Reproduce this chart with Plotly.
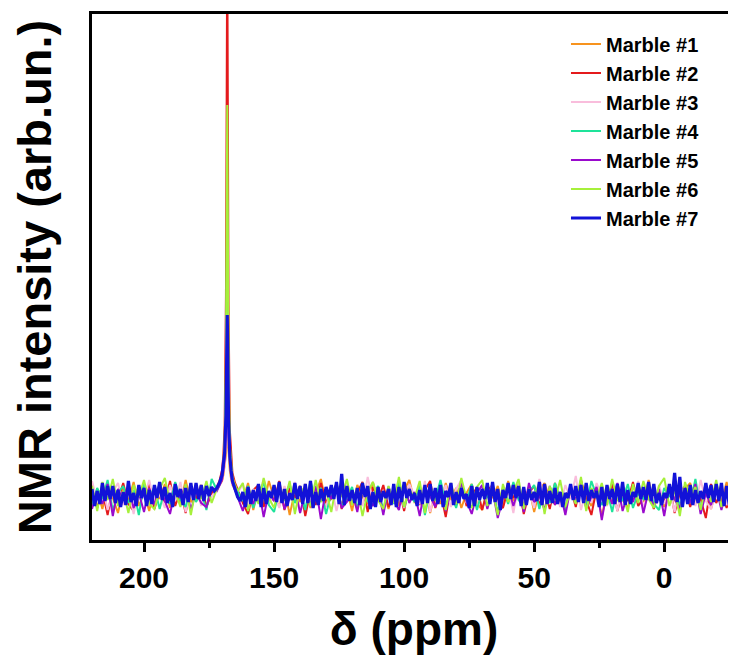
import plotly.graph_objects as go

# Chemical shift sampling (ppm), coarse grid for Marble #1-#6
x_pre = [220, 218, 216, 214, 212, 210, 208, 206, 204, 202,
         200, 198, 196, 194, 192, 190, 188, 186, 184, 182,
         180, 178, 176, 174]
x_peak = [172, 171, 170, 169.5, 169, 168.5, 168, 167.5, 167, 166.5, 166, 165, 164]
x_post = [162, 160, 158, 156, 154, 152, 150, 148, 146, 144,
          142, 140, 138, 136, 134, 132, 130, 128, 126, 124,
          122, 120, 118, 116, 114, 112, 110, 108, 106, 104,
          102, 100, 98, 96, 94, 92, 90, 88, 86, 84,
          82, 80, 78, 76, 74, 72, 70, 68, 66, 64,
          62, 60, 58, 56, 54, 52, 50, 48, 46, 44,
          42, 40, 38, 36, 34, 32, 30, 28, 26, 24,
          22, 20, 18, 16, 14, 12, 10, 8, 6, 4,
          2, 0, -2, -4, -6, -8, -10, -12, -14, -16,
          -18, -20, -22, -24, -26, -28]

# Fine grid (1 ppm) for Marble #7 (drawn on top)
x7_pre = [220, 219, 218, 217, 216, 215, 214, 213, 212, 211, 210, 209,
          208, 207, 206, 205, 204, 203, 202, 201, 200, 199, 198, 197,
          196, 195, 194, 193, 192, 191, 190, 189, 188, 187, 186, 185,
          184, 183, 182, 181, 180, 179, 178, 177, 176, 175, 174, 173]
x7_post = [163, 162, 161, 160, 159, 158, 157, 156, 155, 154, 153, 152,
           151, 150, 149, 148, 147, 146, 145, 144, 143, 142, 141, 140,
           139, 138, 137, 136, 135, 134, 133, 132, 131, 130, 129, 128,
           127, 126, 125, 124, 123, 122, 121, 120, 119, 118, 117, 116,
           115, 114, 113, 112, 111, 110, 109, 108, 107, 106, 105, 104,
           103, 102, 101, 100, 99, 98, 97, 96, 95, 94, 93, 92,
           91, 90, 89, 88, 87, 86, 85, 84, 83, 82, 81, 80,
           79, 78, 77, 76, 75, 74, 73, 72, 71, 70, 69, 68,
           67, 66, 65, 64, 63, 62, 61, 60, 59, 58, 57, 56,
           55, 54, 53, 52, 51, 50, 49, 48, 47, 46, 45, 44,
           43, 42, 41, 40, 39, 38, 37, 36, 35, 34, 33, 32,
           31, 30, 29, 28, 27, 26, 25, 24, 23, 22, 21, 20,
           19, 18, 17, 16, 15, 14, 13, 12, 11, 10, 9, 8,
           7, 6, 5, 4, 3, 2, 1, 0, -1, -2, -3, -4,
           -5, -6, -7, -8, -9, -10, -11, -12, -13, -14, -15, -16,
           -17, -18, -19, -20, -21, -22, -23, -24, -25, -26, -27, -28]

names = ["Marble #1", "Marble #2", "Marble #3", "Marble #4",
         "Marble #5", "Marble #6", "Marble #7"]
colors = ["#F7931E", "#E41A1C", "#F9BDDC", "#1EE39A",
          "#9A0ACD", "#A6F03A", "#1212D8"]

m1_pre = [-8, 5, -14, 10, -3, -18, 7, -6, 13, -11, 2, -16, 9, -4, 11, -13, 4, -9, 15, -7, -2, 10, -12, 3]
m1_peak = [5, 9, 14, 20, 28, 40, 65, 38, 24, 16, 10, 5, 1]
m1_post = [-5, 12, -15, 6, -9, 14, -3, -11, 8, -20,
           4, -7, 11, -13, 2, 16, -8, -4, 9, -12,
           6, -16, 10, -2, -9, 13, -6, 3, -14, 8,
           -11, 5, 15, -7, -3, 10, -18, 4, -9, 12,
           -5, 7, -13, 2, 11, -8, -15, 6, -3, 9,
           -12, 14, -6, 1, -10, 8, -17, 5, 12, -4,
           -9, 3, -14, 10, -6, 13, -2, -11, 7, -22,
           4, -8, 11, -5, -13, 9, 2, -7, 15, -10,
           3, -12, 8, -4, -16, 6, 12, -9, -2, 10,
           -14, 5, -7, 13, -11, 4]

m2_pre = [10, -13, 4, -20, 8, -5, 12, -9, -16, 6, -2, 11, -14, 3, -7, 14, -11, 5, -18, 9, -4, 7, -12, 2]
m2_peak = [8, 14, 25, 40, 70, 200, 560, 190, 65, 35, 22, 12, 6]
m2_post = [-8, -19, 5, 10, -12, 3, -6, 14, -15, 7,
           -3, 9, -21, 4, -10, 12, -7, -2, 11, -14,
           6, -9, 2, 13, -17, 8, -5, 10, -12, -1,
           7, -16, 11, -4, -9, 5, 14, -13, 3, -22,
           9, -6, 12, -11, -2, 8, -15, 4, 10, -7,
           -13, 6, -3, 11, -19, 2, 9, -10, 5, -14,
           12, -8, -1, 7, -12, 15, -5, -20, 6, 3,
           -9, 11, -16, 4, -6, 13, -11, -3, 8, -14,
           5, -7, 10, -18, 2, 9, -12, 6, -4, -23,
           11, -8, 3, -13, 7, -5]

m3_pre = [14, -6, 9, -15, 3, 12, -10, 5, -19, 8, -3, 15, -8, 1, -13, 10, -6, 13, -17, 4, 8, -11, 6, -2]
m3_peak = [6, 10, 16, 22, 30, 50, 100, 48, 28, 18, 10, 6, 2]
m3_post = [11, -14, 6, -3, 16, -9, 2, -13, 9, -5,
           13, -18, 4, -7, 10, -2, -12, 8, -16, 5,
           12, -8, 1, -11, 18, -6, 3, -15, 9, -4,
           7, -13, 11, -1, -9, 14, -17, 5, -3, 10,
           -12, 6, 15, -8, 2, -14, 9, -5, 12, -10,
           3, 8, -18, 11, -6, 4, -13, 16, -2, -9,
           7, -12, 10, -4, 19, -15, 5, -8, 12, -1,
           -11, 6, -16, 9, 3, -7, 14, -13, 1, -5,
           10, -9, 6, -17, 12, -3, 8, -11, 15, -6,
           -14, 4, 9, -10, 2, -7]

m4_pre = [-11, 7, -4, 15, -16, 2, 9, -8, 5, -20, 11, -3, 8, -14, 6, -9, 13, -5, -12, 10, -7, 3, -15, 16]
m4_peak = [5, 10, 18, 28, 45, 110, 295, 100, 42, 26, 15, 8, 3]
m4_post = [-6, 9, -13, 3, 12, -10, -17, 6, -2, 11,
           -8, 4, -15, 14, -5, 7, -19, 2, 10, -11,
           -3, 8, -14, 12, -6, -1, 9, -16, 5, -9,
           13, -12, 3, -7, 10, -20, 6, -4, 15, -10,
           2, -13, 8, -6, 11, -15, 4, -2, 9, -18,
           7, -9, 13, -5, -11, 3, 10, -14, 6, -8,
           12, -3, -16, 9, -7, 4, -12, 14, -1, -10,
           5, -17, 8, -6, 11, -13, 2, -4, 10, -9,
           -15, 7, -2, 12, -11, 4, -8, 16, -14, 3,
           -6, 10, -12, 5, -3, 8]

m5_pre = [-14, 4, -9, 11, -21, 6, -5, 9, -13, 2, -17, 7, -10, 12, -6, -19, 5, -3, 10, -15, 3, -8, -12, 7]
m5_peak = [4, 9, 15, 24, 36, 65, 140, 60, 32, 20, 12, 5, 0]
m5_post = [-16, 5, -9, 8, -22, 3, -6, 11, -14, -3,
           7, -18, 2, -10, 9, -24, 6, -4, 12, -13,
           -7, 4, -17, 10, -2, -11, 6, -20, 8, -5,
           -15, 11, -8, 3, -21, 7, -1, -12, 9, -16,
           4, -9, 13, -6, -19, 2, 10, -14, 5, -23,
           -3, 8, -11, 6, -17, 12, -7, -1, -15, 9,
           -10, 3, -20, 7, -5, 11, -13, -2, 8, -25,
           5, -9, 12, -16, 1, -7, 10, -18, 4, -12,
           6, -21, 9, -4, -13, 3, -8, 11, -19, 2,
           -10, 7, -15, 5, -22, -6]

m6_pre = [9, -16, 13, -5, 16, -11, 4, -18, 10, -2, 15, -9, -14, 6, 17, -7, 3, -12, 11, -20, 7, -4, 14, -8]
m6_peak = [6, 12, 20, 32, 55, 140, 390, 135, 50, 30, 18, 10, 4]
m6_post = [12, -16, 5, -9, 17, -3, -13, 10, -6, 14,
           -19, 8, 2, -11, 15, -7, 4, -17, 11, -2,
           16, -10, 7, -21, 3, 13, -5, -14, 9, -8,
           18, -12, 6, -3, 14, -18, 10, -6, 2, -15,
           12, -9, 17, -4, -13, 8, 15, -11, 5, -20,
           11, -7, 3, 16, -14, 6, -2, 13, -19, 9,
           -5, 15, -12, 4, -9, 18, -16, 7, -3, 12,
           -10, 16, -6, 2, -17, 11, -8, 14, -4, -13,
           9, 17, -11, 5, -21, 13, -3, 8, -15, 10,
           -7, 15, -12, 4, -9, 11]

m7_pre = [6, -11, 4, -9, 12, -6, 9, -4, 9, -8, 5, -12,
          3, -10, 14, -7, 2, -11, 10, -3, 7, -11, 5, -9,
          10, -3, 13, -5, 8, -8, 2, -12, 11, -2, 6, -10,
          7, -7, 12, -5, 12, -4, 10, -6, 9, -1, 8, 4]
m7_peak = [7, 12, 20, 30, 42, 80, 180, 75, 38, 24, 14, 6, -2]
m7_post = [-6, 3, -12, 8, -9, 5, -6, 11, -12, 7, -9, 4,
           -3, 10, -7, 13, -8, 6, -11, 2, -5, 12, -4, 9,
           -9, 11, -8, 14, -13, 3, -10, 6, -6, 8, -2, 10,
           -4, 13, -9, 21, -10, 9, -6, 5, -8, 7, -10, 12,
           -2, 9, -14, 3, -12, 8, -7, 4, -3, 6, -10, 11,
           -12, 8, -7, 13, -3, 6, -5, 2, -11, 5, -9, 10,
           -8, 11, -6, 7, -9, 10, -12, 4, -2, 12, -10, 3,
           -8, 7, -4, 1, -13, 9, -11, 8, -5, 6, -4, 12,
           -9, 13, -7, 6, -15, 5, -3, 12, -4, 10, -3, 9,
           -11, 8, -10, 6, -5, 3, -6, 13, -10, 11, -9, 4,
           -8, 7, -9, 3, -12, 2, -3, 11, -5, 9, -7, 10,
           -8, 12, -6, 5, -3, 4, -12, 8, -11, 10, -4, 6,
           -9, 11, -7, 13, -10, 5, -9, 3, -2, 12, -4, 8,
           -5, 13, -6, 11, -8, 2, -10, 2, -3, 11, -5, 22,
           -7, 18, -12, 7, -9, 10, -10, 5, -8, 4, -4, 12,
           -3, 10, -7, 11, -6, 12, -11, 9, -10, 8, -7, 5]

x_all = x_pre + x_peak + x_post
x7_all = x7_pre + x_peak + x7_post
series = [
    (x_all, m1_pre + m1_peak + m1_post),
    (x_all, m2_pre + m2_peak + m2_post),
    (x_all, m3_pre + m3_peak + m3_post),
    (x_all, m4_pre + m4_peak + m4_post),
    (x_all, m5_pre + m5_peak + m5_post),
    (x_all, m6_pre + m6_peak + m6_post),
    (x7_all, m7_pre + m7_peak + m7_post),
]
for xs, ys in series:
    assert len(xs) == len(ys), (len(xs), len(ys))

widths = [2, 2, 2, 2, 2, 2, 3.2]

FONT = "Arial, 'Liberation Sans', sans-serif"

fig = go.Figure()
for name, col, w, (xs, ys) in zip(names, colors, widths, series):
    fig.add_trace(go.Scatter(x=xs, y=ys, mode="lines", name=name,
                             line=dict(color=col, width=w)))

# page body adds an 8px offset; figure is sized to fill the rest of the window
fig.update_layout(
    width=728, height=649,
    margin=dict(l=84, r=0, t=6, b=117),
    plot_bgcolor="white", paper_bgcolor="white",
    font=dict(family=FONT, color="black"),
    legend=dict(x=0.736, y=0.98, xanchor="left", yanchor="top",
                bgcolor="rgba(0,0,0,0)",
                font=dict(family=FONT, size=20, weight="bold", color="black"),
                tracegroupgap=0),
    showlegend=True,
)
fig.update_xaxes(
    range=[220, -27.6], showgrid=False, zeroline=False, automargin=False,
    showline=True, linecolor="black", linewidth=3, mirror=True,
    ticks="outside", ticklen=9, tickwidth=3, tickcolor="black",
    tick0=0, dtick=50,
    minor=dict(ticks="outside", ticklen=5, tickwidth=3, tickcolor="black", tick0=0, dtick=25),
    tickfont=dict(family=FONT, size=30, weight="bold", color="black"),
    title=dict(text="δ (ppm)", font=dict(family=FONT, size=46, weight="bold", color="black"),
               standoff=20),
)
fig.update_yaxes(
    range=[-45, 481], showgrid=False, zeroline=False, automargin=False,
    showline=True, linecolor="black", linewidth=3, mirror=False,
    ticks="", showticklabels=False,
    title=dict(text="NMR intensity (arb.un.)",
               font=dict(family=FONT, size=47, weight="bold", color="black"),
               standoff=38),
)

fig.write_html("out.html")
